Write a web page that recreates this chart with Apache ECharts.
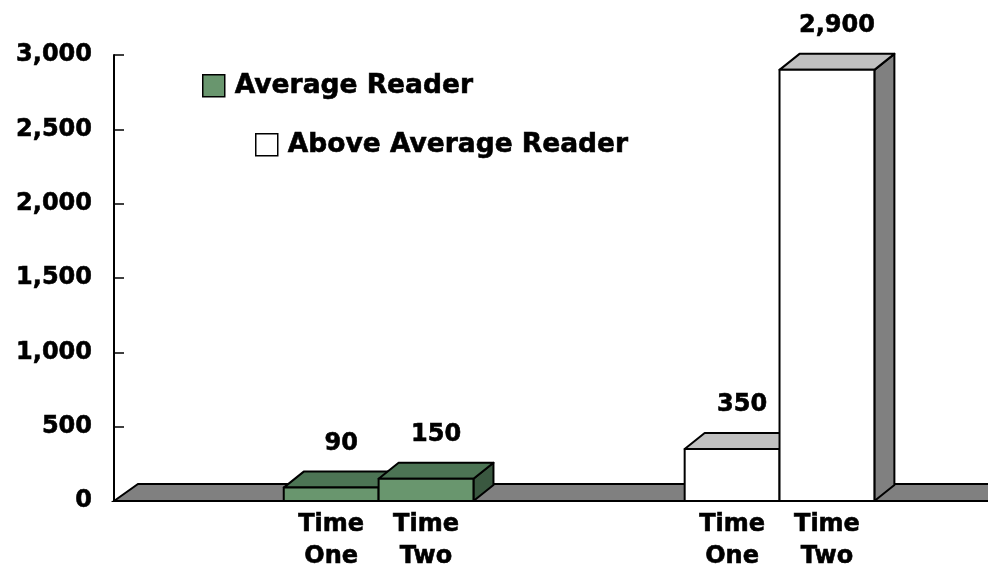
<!DOCTYPE html>
<html>
<head>
<meta charset="utf-8">
<script src="https://cdn.jsdelivr.net/npm/echarts@6/dist/echarts.min.js"></script>
<style>
  html, body { margin: 0; padding: 0; background: #ffffff; }
  #chart { width: 988px; height: 570px; }
</style>
</head>
<body>
<div id="chart"></div>
<script>
// Reader groups, measurement times and word counts
const groups = ['Average Reader', 'Above Average Reader'];
const times = ['Time One', 'Time Two'];
const averageReader = [90, 150];
const aboveAverageReader = [350, 2900];
const yTicks = [0, 500, 1000, 1500, 2000, 2500, 3000];

const FONT = 'DejaVu Sans';
const BAR_W = 0.2366;          // width of one bar in x-axis units
const DEPTH = [20, -16];       // 3D offset of the bar tops/sides (px)
const FLOOR_DEPTH = [24, -17];
const HEAVY = { textBorderColor: '#000', textBorderWidth: 0.6 };

const palette = {
  'Average Reader': { front: '#69966e', top: '#4c7454', side: '#3a5840' },
  'Above Average Reader': { front: '#ffffff', top: '#c0c0c0', side: '#808080' }
};

const fmt = v => v.toLocaleString('en-US');

function barRenderer(groupName) {
  const col = palette[groupName];
  return function (params, api) {
    const g = api.value(0);
    const i = api.value(1);
    const v = api.value(2);
    const left = api.coord([g + (i - 1) * BAR_W, 0]);
    const right = api.coord([g + i * BAR_W, 0]);
    const topY = api.coord([g, v])[1];
    const x0 = left[0], x1 = right[0], y0 = left[1];
    const [dx, dy] = DEPTH;
    const line = { stroke: '#000', lineWidth: 2, lineJoin: 'round' };
    const textStyle = { fill: '#000', stroke: '#000', lineWidth: 0.6, font: 'bold 24px "' + FONT + '"', align: 'center' };
    const children = [
      { type: 'polygon', shape: { points: [[x1, y0], [x1 + dx, y0 + dy], [x1 + dx, topY + dy], [x1, topY]] },
        style: Object.assign({ fill: col.side }, line) },
      { type: 'polygon', shape: { points: [[x0, topY], [x0 + dx, topY + dy], [x1 + dx, topY + dy], [x1, topY]] },
        style: Object.assign({ fill: col.top }, line) },
      { type: 'rect', shape: { x: x0, y: topY, width: x1 - x0, height: y0 - topY },
        style: Object.assign({ fill: col.front }, line) },
      { type: 'text', x: (x0 + x1) / 2 + dx / 2, y: topY + dy - 28,
        style: Object.assign({ text: fmt(v), verticalAlign: 'middle' }, textStyle) },
      { type: 'text', x: (x0 + x1) / 2, y: y0 + 8,
        style: Object.assign({ text: times[i].replace(' ', '\n'), verticalAlign: 'top', lineHeight: 32 }, textStyle) }
    ];
    return { type: 'group', children: children };
  };
}

function toData(values, g) {
  return values.map((v, i) => [g, i, v]);
}

const chart = echarts.init(document.getElementById('chart'), null, { renderer: 'canvas' });

const legendText = Object.assign({ fontFamily: FONT, fontWeight: 'bold', fontSize: 26.5, color: '#000', padding: [0, 0, 0, 5] }, HEAVY);

chart.setOption({
  animation: false,
  backgroundColor: '#ffffff',
  grid: { left: 114, right: 0, top: 55, bottom: 69, containLabel: false },
  legend: [
    {
      data: [{ name: groups[0], itemStyle: { color: palette[groups[0]].front, borderColor: '#000', borderWidth: 1.5 } }],
      left: 202, top: 72, padding: 0, icon: 'rect', itemWidth: 22, itemHeight: 22,
      textStyle: legendText, selectedMode: false
    },
    {
      data: [{ name: groups[1], itemStyle: { color: '#ffffff', borderColor: '#000', borderWidth: 1.5 } }],
      left: 255, top: 131, padding: 0, icon: 'rect', itemWidth: 22, itemHeight: 22,
      textStyle: legendText, selectedMode: false
    }
  ],
  xAxis: {
    type: 'value', min: -0.66, max: 1.52,
    axisLine: { show: false }, axisTick: { show: false }, axisLabel: { show: false }, splitLine: { show: false }
  },
  yAxis: {
    type: 'value', min: yTicks[0], max: yTicks[yTicks.length - 1], interval: yTicks[1] - yTicks[0],
    axisLine: { show: true, onZero: false, lineStyle: { color: '#000', width: 2 } },
    axisTick: { show: true, inside: true, length: 10, lineStyle: { color: '#000', width: 1.5 } },
    axisLabel: Object.assign({ margin: 22, color: '#000', fontFamily: FONT, fontWeight: 'bold', fontSize: 24, formatter: fmt }, HEAVY),
    splitLine: { show: false }
  },
  series: [
    {
      // floor slab under the bars
      type: 'custom', name: 'floor', silent: true, clip: false, z: 1,
      data: [[0]],
      renderItem: function (params, api) {
        const cs = params.coordSys;
        const y0 = api.coord([0, 0])[1];
        const [dx, dy] = FLOOR_DEPTH;
        const xa = cs.x, xb = cs.x + cs.width + 40;
        return {
          type: 'polygon',
          shape: { points: [[xa, y0], [xa + dx, y0 + dy], [xb + dx, y0 + dy], [xb, y0]] },
          style: { fill: '#808080', stroke: '#000', lineWidth: 2 }
        };
      }
    },
    {
      type: 'custom', name: groups[0], clip: false, z: 3,
      itemStyle: { color: palette[groups[0]].front },
      data: toData(averageReader, 0),
      renderItem: barRenderer(groups[0])
    },
    {
      type: 'custom', name: groups[1], clip: false, z: 3,
      itemStyle: { color: '#ffffff' },
      data: toData(aboveAverageReader, 1),
      renderItem: barRenderer(groups[1])
    }
  ]
});
</script>
</body>
</html>
